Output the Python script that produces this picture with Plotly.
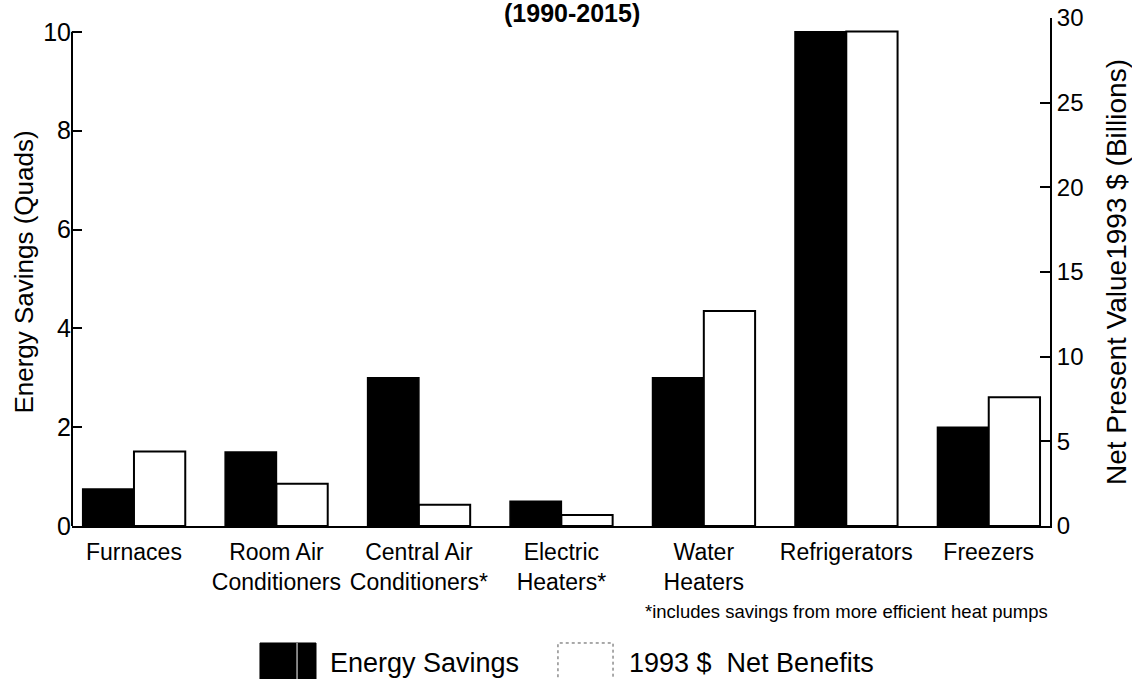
import plotly.graph_objects as go

categories = ["Furnaces", "Room Air<br>Conditioners", "Central Air<br>Conditioners*",
              "Electric<br>Heaters*", "Water<br>Heaters", "Refrigerators", "Freezers"]
energy_savings = [0.75, 1.5, 3.0, 0.5, 3.0, 10.0, 2.0]          # Quads (left axis)
net_benefits = [4.4, 2.5, 1.25, 0.65, 12.7, 29.2, 7.6]          # 1993 $ billions (right axis)
left_ticks = [0, 2, 4, 6, 8, 10]
right_ticks = [0, 5, 10, 15, 20, 25, 30]

FONT = "Liberation Sans, Arial, Helvetica, sans-serif"
BAR_W = 0.36

fig = go.Figure()
fig.add_trace(go.Bar(
    x=categories, y=energy_savings, name="Energy Savings",
    marker=dict(color="black", line=dict(color="black", width=1.5)),
    width=BAR_W, offset=-BAR_W, yaxis="y", showlegend=False))
fig.add_trace(go.Bar(
    x=categories, y=net_benefits, name="1993 $  Net Benefits",
    marker=dict(color="white", line=dict(color="black", width=2)),
    width=BAR_W, offset=0, yaxis="y2", showlegend=False))

fig.update_layout(
    width=1132, height=679,
    margin=dict(l=72, r=82, t=18, b=153, autoexpand=False),
    paper_bgcolor="white", plot_bgcolor="white",
    font=dict(family=FONT, color="black", size=22),
    xaxis=dict(
        type="category", range=[-0.435, 6.43],
        showline=True, linecolor="black", linewidth=2,
        ticks="", showgrid=False, zeroline=False, automargin=False,
        tickfont=dict(size=23), ticklabelstandoff=4),
    yaxis=dict(
        range=[0, 10.28], tickvals=left_ticks,
        showline=False, showgrid=False, zeroline=False, automargin=False,
        ticks="inside", ticklen=10, tickwidth=2, tickcolor="black",
        tickfont=dict(size=25),
        title=dict(text="Energy Savings (Quads)", font=dict(size=26), standoff=2)),
    yaxis2=dict(
        range=[0, 30], tickvals=right_ticks, overlaying="y", side="right",
        showline=True, linecolor="black", linewidth=2,
        showgrid=False, zeroline=False, automargin=False,
        ticks="inside", ticklen=10, tickwidth=2, tickcolor="black",
        tickfont=dict(size=24),
        title=dict(text="Net Present Value1993 $ (Billions)", font=dict(size=28), standoff=24)),
    showlegend=False,
)

# left axis line (runs only up to the top tick, as in the original)
fig.add_shape(type="line", xref="paper", yref="y", x0=0, x1=0, y0=0, y1=max(left_ticks),
              line=dict(color="black", width=2))

# title (at the very top, as in the original)
fig.add_annotation(text="<b>(1990-2015)</b>", xref="paper", yref="paper",
                   x=0.511, y=1.0098, xanchor="center", yanchor="middle",
                   showarrow=False, font=dict(size=25))

# footnote
fig.add_annotation(text="*includes savings from more efficient heat pumps",
                   xref="paper", yref="paper", x=1.0, y=-0.169,
                   xanchor="right", yanchor="middle", showarrow=False,
                   font=dict(size=18.5))

# legend (drawn at the bottom like the original)
fig.add_shape(type="rect", xref="paper", yref="paper", x0=0.1922, x1=0.2495, y0=-0.33, y1=-0.2303,
              fillcolor="black", line=dict(color="black", width=1))
fig.add_shape(type="line", xref="paper", yref="paper", x0=0.2301, x1=0.2301, y0=-0.33, y1=-0.2303,
              line=dict(color="white", width=1))
fig.add_shape(type="rect", xref="paper", yref="paper", x0=0.4969, x1=0.5532, y0=-0.33, y1=-0.2303,
              fillcolor="white", line=dict(color="#555555", width=1, dash="dot"))
fig.add_annotation(text="Energy Savings", xref="paper", yref="paper", x=0.2618, y=-0.2697,
                   xanchor="left", yanchor="middle", showarrow=False, font=dict(size=27))
fig.add_annotation(text="1993 $\u00a0 Net Benefits", xref="paper", yref="paper", x=0.5675, y=-0.2697,
                   xanchor="left", yanchor="middle", showarrow=False, font=dict(size=27))

fig.write_html("out.html", config={"displayModeBar": False},
               post_script="document.body.style.margin='0';document.body.style.overflow='hidden';")
